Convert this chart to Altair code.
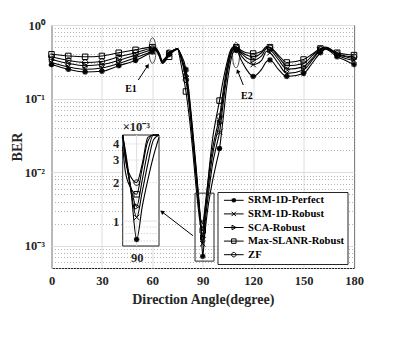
import altair as alt
import pandas as pd

FONT = "Liberation Serif"

series_names = ["SRM-1D-Perfect", "SRM-1D-Robust", "SCA-Robust", "Max-SLANR-Robust", "ZF"]

angles = [0, 10, 20, 30, 40, 50, 60, 62, 64, 66, 68, 70, 72, 75, 77, 80, 82, 84, 86, 87, 88, 89, 90,
          91, 92, 93, 94, 96, 98, 100, 102, 104, 106, 108, 110, 113, 116, 120, 125, 128, 130, 135,
          140, 150, 155, 160, 163, 170, 175, 180]

ber_perfect = [.29, .25, .23, .235, .28, .33, .43, .45, .38, .30, .33, .40, .43, .47, .40, .25, .11, .038, .012, .0065, .0035, .0017, .00072,
               .0013, .0021, .0032, .0045, .008, .013, .021, .05, .13, .27, .42, .45, .33, .25, .20, .25, .32, .335, .25,
               .20, .22, .30, .42, .47, .37, .33, .29]
ber_robust = [.31, .27, .25, .26, .30, .36, .44, .46, .39, .31, .34, .41, .44, .48, .38, .22, .10, .034, .011, .006, .0033, .0017, .00107,
              .0017, .0028, .0043, .0065, .0135, .022, .035, .08, .18, .33, .46, .47, .38, .32, .29, .33, .44, .42, .30,
              .22, .245, .33, .45, .48, .39, .35, .33]
ber_sca = [.34, .30, .28, .29, .33, .39, .46, .47, .40, .31, .35, .42, .45, .48, .37, .20, .09, .031, .010, .0056, .0031, .0018, .0013,
           .0021, .0035, .0055, .0085, .018, .03, .047, .10, .21, .36, .48, .48, .41, .36, .335, .38, .48, .46, .34,
           .25, .27, .35, .46, .49, .40, .37, .345]
ber_slanr = [.40, .38, .37, .38, .42, .46, .50, .49, .42, .33, .36, .37, .43, .47, .30, .125, .056, .02, .0063, .0038, .0024, .0018, .00162,
             .0026, .0042, .007, .012, .03, .055, .094, .17, .28, .42, .50, .50, .45, .42, .41, .44, .51, .50, .39,
             .31, .34, .40, .48, .50, .42, .40, .39]
ber_zf = [.37, .33, .31, .32, .37, .42, .48, .48, .41, .32, .36, .42, .45, .48, .36, .18, .08, .027, .0085, .0048, .003, .0022, .0020,
          .0028, .0045, .007, .011, .022, .036, .057, .12, .24, .39, .49, .49, .43, .39, .37, .42, .50, .49, .37,
          .28, .30, .38, .47, .49, .41, .38, .37]

marker_paths = [
    "M-1,0L1,0M0,-1L0,1M-0.7,-0.7L0.7,0.7M-0.7,0.7L0.7,-0.7M-0.4,-0.9L0.4,0.9M-0.9,-0.4L0.9,0.4M-0.4,0.9L0.4,-0.9M-0.9,0.4L0.9,-0.4",
    "M-1,-1L1,1M-1,1L1,-1",
    "M-0.8,-1L1,0L-0.8,1Z",
    "M-1,-1L1,-1L1,1L-1,1Z",
    "M1,0A1,1,0,1,1,-1,0A1,1,0,1,1,1,0Z",
]
legend_paths = ["M-4.4,0L4.4,0" + p for p in marker_paths]

rows = []
for name, vals in zip(series_names, [ber_perfect, ber_robust, ber_sca, ber_slanr, ber_zf]):
    for a, v in zip(angles, vals):
        rows.append({"angle": a, "ber": v, "series": name})
df = pd.DataFrame(rows)

x_ticks = [0, 30, 60, 90, 120, 150, 180]
y_ticks = [m * 10.0 ** e for e in (-4, -3, -2, -1) for m in range(1, 10) if m * 10.0 ** e >= 5e-4] + [1]
decade_test = "datum.value == 1 || datum.value == 0.1 || datum.value == 0.01 || datum.value == 0.001"

XS = alt.Scale(domain=[0, 180], nice=False, zero=False)
YS = alt.Scale(type="log", domain=[5e-4, 1], nice=False)
X = alt.X("angle:Q", scale=XS,
          axis=alt.Axis(values=x_ticks, title="Direction Angle(degree)", grid=True, gridColor="#dedede",
                        ticks=False, domain=False, labelFlush=False, labelFont=FONT, labelFontWeight="bold",
                        labelFontSize=12.5, labelColor="#262626", labelPadding=6, titleFont=FONT,
                        titleFontWeight="bold", titleFontSize=14, titleColor="#262626", titlePadding=6))
Y = alt.Y("ber:Q", scale=YS,
          axis=alt.Axis(values=y_ticks, title="BER", grid=True, ticks=False, domain=False, labelOverlap=False,
                        labelExpr="datum.value == 1 ? '10⁰' : datum.value == 0.1 ? '10⁻¹' : datum.value == 0.01 ? '10⁻²' : datum.value == 0.001 ? '10⁻³' : ''",
                        gridDash={"condition": {"test": decade_test, "value": []}, "value": [1, 2]},
                        gridColor={"condition": {"test": decade_test, "value": "#dedede"}, "value": "#b5b5b5"},
                        labelFont=FONT, labelFontWeight="bold", labelFontSize=12.5, labelColor="#262626",
                        labelPadding=7, titleFont=FONT, titleFontWeight="bold", titleFontSize=14,
                        titleColor="#262626", titlePadding=0))

base = alt.Chart(df)
lines = base.mark_line(color="black", strokeWidth=1.1, interpolate="monotone", clip=True).encode(
    x=X, y=Y, detail="series:N")

marker_layers = []
for name, path in zip(series_names, marker_paths):
    marker_layers.append(
        base.transform_filter(f"datum.series == '{name}' && datum.angle % 10 == 0")
        .mark_point(shape=path, filled=False, color="black", size=30, strokeWidth=1, opacity=1)
        .encode(x=X, y=Y))

legend_layer = base.transform_filter("datum.angle % 10 == 0").mark_point(
    filled=False, color="black", opacity=0, size=20).encode(
    x=X, y=Y,
    shape=alt.Shape("series:N", scale=alt.Scale(domain=series_names, range=legend_paths),
                    legend=alt.Legend(title=None, orient="none", legendX=166, legendY=167,
                                      fillColor="white", strokeColor="#262626", padding=3, rowPadding=2.6,
                                      symbolOffset=8, labelOffset=9, symbolSize=20, symbolStrokeWidth=1,
                                      symbolStrokeColor="black", symbolOpacity=1, symbolFillColor="transparent",
                                      labelFont=FONT, labelFontSize=10.6, labelFontWeight="bold",
                                      labelColor="black")))

# annotations (in data units)
null_box = pd.DataFrame({"angle": [85.4], "angle2": [96.7], "ber": [6.2e-4], "ber2": [5.2e-3]})
box_mark = alt.Chart(null_box).mark_rect(fillOpacity=0, stroke="#262626", strokeWidth=1).encode(
    x=X, x2="angle2:Q", y=Y, y2="ber2:Q")

ellipses = pd.DataFrame({"angle": [60.1, 109.8], "ber": [0.45, 0.39]})
ellipse_mark = alt.Chart(ellipses).mark_point(
    shape="M0,-1A0.27,1,0,1,1,0,1A0.27,1,0,1,1,0,-1Z", size=650, filled=False, color="black",
    strokeWidth=1).encode(x=X, y=Y)

labels = pd.DataFrame({"angle": [47.3, 116.3], "ber": [0.135, 0.11], "txt": ["E1", "E2"]})
label_mark = alt.Chart(labels).mark_text(font=FONT, fontWeight="bold", fontSize=10, color="black").encode(
    x=X, y=Y, text="txt:N")

arrows = pd.DataFrame({"angle": [51.65, 114.1, 84.2], "ber": [0.179, 0.153, 1.37e-3],
                       "angle2": [57.24, 110.8, 65.75], "ber2": [0.28, 0.237, 2.9e-3]})
heads = pd.DataFrame({"angle": [57.24, 110.8, 65.75], "ber": [0.28, 0.237, 2.9e-3], "rot": [33, 338, 308]})
arrow_lines = alt.Chart(arrows).mark_rule(color="black", strokeWidth=1).encode(
    x=X, y=Y, x2="angle2:Q", y2="ber2:Q")
arrow_heads = alt.Chart(heads).mark_point(shape="triangle-up", filled=True, color="black", size=22,
                                          opacity=1).encode(
    x=X, y=Y, angle=alt.Angle("rot:Q", scale=None))

main = alt.layer(lines, *marker_layers, box_mark, ellipse_mark, label_mark, arrow_lines, arrow_heads,
                 legend_layer)

# inset
XIS = alt.Scale(domain=[87.5, 94], range=[71.2, 107.5], nice=False, zero=False, clamp=True)
YIS = alt.Scale(type="log", domain=[6.4e-4, 4.7e-3], range=[221, 110], nice=False, clamp=True)
XI = alt.X("angle:Q", scale=XIS,
           axis=alt.Axis(orient="bottom", values=[90], offset=-22, grid=False, domain=False, ticks=False,
                         title=None, labelFont=FONT, labelFontWeight="bold", labelFontSize=12.5,
                         labelColor="#262626", labelPadding=5, labelFlush=False))
YI = alt.Y("ber:Q", scale=YIS,
           axis=alt.Axis(orient="left", values=[0.001, 0.002, 0.003, 0.004], labelExpr="round(datum.value*1000)",
                         offset=-71.2, grid=False, domain=False, ticks=False, title=None, labelFont=FONT,
                         labelFontWeight="bold", labelFontSize=12.5, labelColor="#262626", labelPadding=4))

inset_frame = pd.DataFrame({"angle": [87.5], "angle2": [94], "ber": [6.4e-4], "ber2": [4.7e-3]})
inset_bg = alt.Chart(inset_frame).mark_rect(fill="white", stroke="#262626", strokeWidth=1).encode(
    x=XI, x2="angle2:Q", y=YI, y2="ber2:Q")
inset_grid = pd.DataFrame({"ber": [7e-4, 8e-4, 9e-4, 1e-3, 2e-3, 3e-3, 4e-3],
                           "angle": [87.5] * 7, "angle2": [94] * 7,
                           "major": [0, 0, 0, 1, 0, 0, 0]})
inset_grid_mark = alt.Chart(inset_grid).mark_rule(strokeWidth=1).encode(
    y=YI, x=XI, x2="angle2:Q",
    color=alt.Color("major:N", scale=alt.Scale(domain=[0, 1], range=["#c4c4c4", "#dedede"]), legend=None),
    strokeDash=alt.StrokeDash("major:N", scale=alt.Scale(domain=[0, 1], range=[[1, 2], [1, 0]]), legend=None))
inset_vgrid = alt.Chart(pd.DataFrame({"angle": [90], "ber": [6.4e-4], "ber2": [4.7e-3]})).mark_rule(
    color="#dedede", strokeWidth=1).encode(x=XI, y=YI, y2="ber2:Q")
inset_data = base.transform_filter("datum.angle >= 87 && datum.angle <= 94")
inset_lines = inset_data.mark_line(color="black", strokeWidth=1.1, interpolate="monotone").encode(
    x=XI, y=YI, detail="series:N")
inset_markers = []
for name, path in zip(series_names, marker_paths):
    inset_markers.append(
        base.transform_filter(f"datum.series == '{name}' && datum.angle == 90")
        .mark_point(shape=path, filled=False, color="black", size=30, strokeWidth=1, opacity=1)
        .encode(x=XI, y=YI))
inset_text = alt.Chart(pd.DataFrame({"angle": [87.5], "ber": [4.7e-3], "txt": ["×10⁻³"]})).mark_text(
    font=FONT, fontWeight="bold", fontSize=12.5, color="#262626", align="left", baseline="bottom", dy=-1).encode(
    x=XI, y=YI, text="txt:N")

inset = alt.layer(inset_bg, inset_grid_mark, inset_vgrid, inset_lines, *inset_markers, inset_text)

chart = alt.layer(main, inset).resolve_scale(x="independent", y="independent").properties(
    width=302.5, height=243,
    autosize=alt.AutoSizeParams(type="none"),
    padding={"left": 43.5, "top": 17, "right": 37, "bottom": 63},
    background="white",
).configure_view(stroke="#262626", strokeWidth=1)

chart.save("out.html", embed_options={"renderer": "svg", "actions": False})
